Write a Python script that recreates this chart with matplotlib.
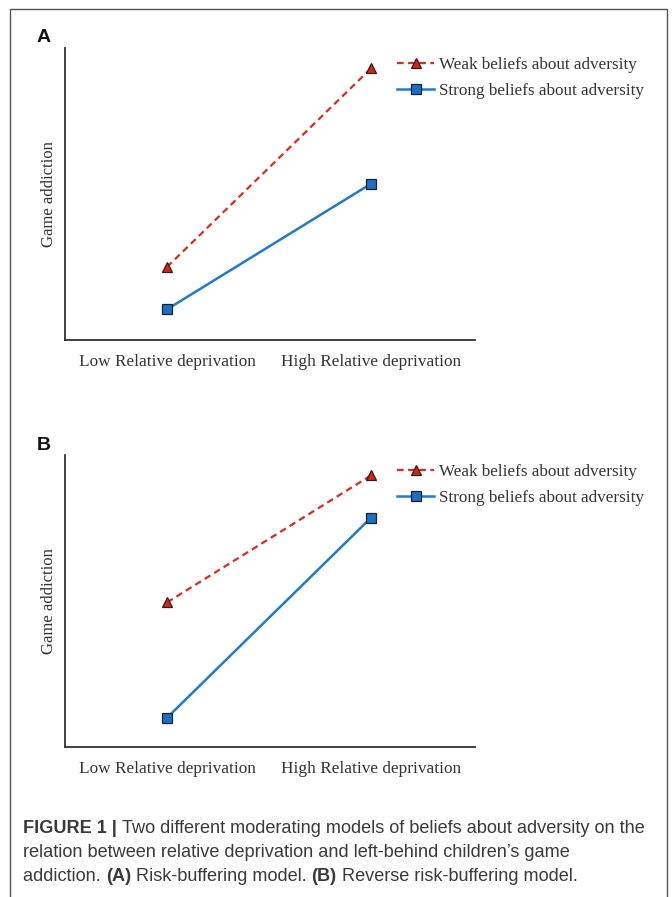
import matplotlib
matplotlib.use("Agg")
import matplotlib.pyplot as plt
from matplotlib.patches import Rectangle

# data (relative heights, axis 0..1)
levels = ["Low Relative deprivation", "High Relative deprivation"]
weak_a = [0.25, 0.93]
strong_a = [0.105, 0.535]
weak_b = [0.495, 0.93]
strong_b = [0.10, 0.785]
series_names = ["Weak beliefs about adversity", "Strong beliefs about adversity"]
panel_names = ["A", "B"]

W, H = 672, 897
fig = plt.figure(figsize=(W / 100, H / 100), dpi=100)

# outer frame of the figure box
fig.patches.append(Rectangle((10 / W, -0.05), 657 / W, 1.05 - 9 / H,
                             transform=fig.transFigure, fill=False,
                             edgecolor="#555555", linewidth=1.0, clip_on=False))

serif = "Liberation Serif"
red = "#e8261c"
blue = "#1f7ad0"


def draw_panel(top_px, weak, strong, letter):
    bottom_px = top_px + 292
    ax = fig.add_axes([65 / W, (H - bottom_px) / H, 410 / W, 292 / H])
    x = [0, 1]
    ax.plot(x, weak, linestyle="--", color=red, linewidth=1.6, dashes=(3, 2),
            marker="^", markersize=7.5, markerfacecolor="#e02010",
            markeredgecolor="#222222", markeredgewidth=0.9, label=series_names[0])
    ax.plot(x, strong, linestyle="-", color=blue, linewidth=1.8,
            marker="s", markersize=7.5, markerfacecolor="#1a6fc8",
            markeredgecolor="#222222", markeredgewidth=0.9, label=series_names[1])
    ax.set_xlim(-0.5, 1.51)
    ax.set_ylim(0, 1)
    for s in ["top", "right"]:
        ax.spines[s].set_visible(False)
    for s in ["left", "bottom"]:
        ax.spines[s].set_color("#333333")
        ax.spines[s].set_linewidth(1.3)
    ax.set_yticks([])
    ax.set_xticks(x)
    ax.set_xticklabels(levels, fontfamily=serif, fontsize=12.4, color="#333333")
    ax.tick_params(axis="x", length=0, pad=10)
    ax.set_ylabel("Game addiction", fontfamily=serif, fontsize=12,
                  color="#333333", labelpad=6)
    leg = ax.legend(loc="upper left", bbox_to_anchor=(390 / W, (H - top_px - 2) / H),
                    bbox_transform=fig.transFigure, frameon=False,
                    prop={"family": serif, "size": 12.3}, handlelength=2.2,
                    handletextpad=0.25, labelspacing=0.62, borderaxespad=0)
    for t in leg.get_texts():
        t.set_color("#333333")
    fig.text(37 / W, (H - 38) / H - (top_px - 48) / H, letter,
             fontfamily="Liberation Sans", fontweight="bold", fontsize=14,
             va="center", ha="left", color="#111111")
    return ax


draw_panel(48, weak_a, strong_a, panel_names[0])
draw_panel(455, weak_b, strong_b, panel_names[1])

# caption with mixed bold / regular pieces
caption = [
    [("FIGURE 1 | ", "bold"), ("Two different moderating models of beliefs about adversity on the", "normal")],
    [("relation between relative deprivation and left-behind children\u2019s game", "normal")],
    [("addiction. ", "normal"), ("(A)", "bold"), (" Risk-buffering model. ", "normal"),
     ("(B)", "bold"), (" Reverse risk-buffering model.", "normal")],
]
fig.canvas.draw()
renderer = fig.canvas.get_renderer()
line_y = [828, 852, 876]
for parts, ypx in zip(caption, line_y):
    xpx = 23
    for txt, weight in parts:
        t = fig.text(xpx / W, (H - ypx) / H, txt, fontfamily="Liberation Sans",
                     fontweight=weight, fontsize=13.1, color="#3a3a3a",
                     va="center", ha="left")
        bb = t.get_window_extent(renderer=renderer)
        xpx += bb.width

fig.savefig("out.png", dpi=100)
